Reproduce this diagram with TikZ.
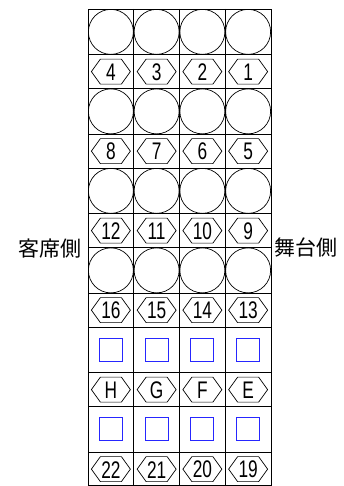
\documentclass[tikz,border=0pt]{standalone}
\usepackage{fontspec}
\usepackage{graphicx}
\setmainfont{Liberation Sans}
\newfontfamily\jpfont{Noto Sans CJK JP}

\newcommand{\seatlbl}[1]{\scalebox{0.72}[1]{#1}}

\begin{document}
\begin{tikzpicture}[x=1pt,y=-1pt,
    seat/.style={circle,draw,line width=0.7pt,minimum size=45pt,inner sep=0pt},
    spot/.style={rectangle,draw=blue!85!white,line width=0.8pt,minimum size=23pt,inner sep=0pt},
    tag/.style={inner sep=0pt,font=\fontsize{24pt}{24pt}\selectfont},
    hexa/.style={line width=0.7pt,line join=miter},
    side/.style={font=\jpfont\fontsize{21pt}{21pt}\selectfont}]
  \useasboundingbox (0,0) rectangle (343,486);

  % Grid
  \draw[line width=0.7pt] (88,9) rectangle (271,485.5);
  \foreach \x in {133.75,179.5,225.25}
    \draw[line width=0.7pt] (\x,9) -- (\x,485.5);
  \foreach \y in {54.75,88.5,134.25,168,213.75,247.5,293.25,327,372.75,406.5,452.25}
    \draw[line width=0.7pt] (88,\y) -- (271,\y);

  % Seats (circles)
  \foreach \y [count=\r] in {31.875,111.375,190.875,270.375}
    \foreach \i in {0,...,3}
      \node[seat] (seat-\r-\i) at ({110.875+45.75*\i},\y) {};

  % Open spots (blue squares)
  \foreach \y [count=\r] in {349.875,429.375}
    \foreach \i in {0,...,3}
      \node[spot] (spot-\r-\i) at ({110.875+45.75*\i},\y) {};

  % Numbers in hexagons
  \foreach \y/\row in {71.625/{4,3,2,1},151.125/{8,7,6,5},230.625/{12,11,10,9},
                       310.125/{16,15,14,13},389.625/{H,G,F,E},469.125/{22,21,20,19}}
    \foreach \t [count=\i from 0] in \row {
      \node[tag] (tag-\t) at ({110.875+45.75*\i},\y+0.5) {\seatlbl{\t}};
      \draw[hexa,shift={({110.875+45.75*\i},\y)}]
        (-19.5,0) -- (-10.5,-12.5) -- (10.5,-12.5) -- (19.5,0)
        -- (10.5,12.5) -- (-10.5,12.5) -- cycle;
    }

  % Sides
  \node[side] (audience) at (50,249) {客席側};
  \node[side] (stage) at (306,247) {舞台側};
\end{tikzpicture}
\end{document}
